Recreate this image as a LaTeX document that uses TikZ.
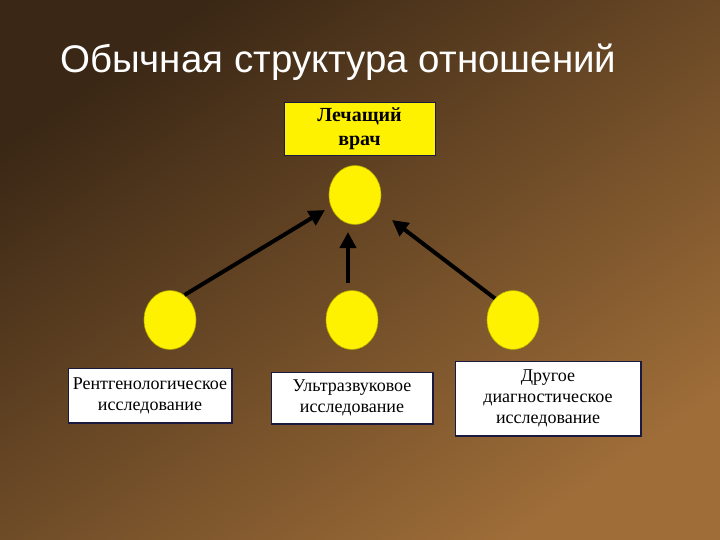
\documentclass[tikz,border=0pt]{standalone}
\usepackage{fontspec}
\setmainfont{Liberation Serif}
\newfontfamily\titlefont{Liberation Sans}
\usetikzlibrary{arrows.meta,shapes.geometric}
\definecolor{bgA}{HTML}{3A2715}
\definecolor{bgB}{HTML}{9E6D38}
\definecolor{ylw}{HTML}{FFF200}
\definecolor{nav}{HTML}{1A1A40}
\begin{document}
\begin{tikzpicture}[x=1pt,y=-1pt,
  dot/.style={ellipse,fill=ylw,draw=ylw!70!black,line width=0.6pt,minimum width=52pt,minimum height=59pt,inner sep=0pt},
  wbox/.style={draw=nav,line width=0.8pt,fill=white,align=center,font=\fontsize{18}{21}\selectfont,inner sep=0pt},
  arr/.style={-{Triangle[length=16pt,width=16pt]},line width=4pt,black}]
\shade[shading=axis,top color=bgA,bottom color=bgB,shading angle=35] (0,0) rectangle (720,540);
\useasboundingbox (0,0) rectangle (720,540);
\node[anchor=base west,text=white,font=\titlefont\fontsize{38.5}{44}\selectfont,inner sep=0pt] (title) at (60,73) {Обычная структура отношений};
\node[draw=nav,line width=0.8pt,fill=ylw,minimum width=151pt,minimum height=53pt,align=center,font=\bfseries\fontsize{20}{24}\selectfont,inner sep=0pt] (top) at (359.5,128.5) {Лечащий\\врач};
\node[dot] (c0) at (355,195) {};
\node[dot] (c1) at (170,320) {};
\node[dot] (c2) at (352,320) {};
\node[dot] (c3) at (513,320) {};
\node[wbox,minimum width=164pt,minimum height=55pt] (b1) at (150,395.5) {Рентгенологическое\\исследование};
\node[wbox,minimum width=162pt,minimum height=52pt] (b2) at (352,398) {Ультразвуковое\\исследование};
\node[wbox,minimum width=186pt,minimum height=75pt] (b3) at (548,398.5) {Другое\\диагностическое\\исследование};
\draw[nav,line width=2pt] (b1.south west)--(b1.south east)--(b1.north east);
\draw[nav,line width=2pt] (b2.south west)--(b2.south east)--(b2.north east);
\draw[nav,line width=2pt] (b3.south west)--(b3.south east)--(b3.north east);
\coordinate (e1) at (325,210);
\coordinate (e2) at (348,232);
\coordinate (e3) at (392,220);
\draw[arr] (c1.60) -- (e1);
\draw[arr] (348,283) -- (e2);
\draw[arr] (c3.130) -- (e3);
\end{tikzpicture}
\end{document}
